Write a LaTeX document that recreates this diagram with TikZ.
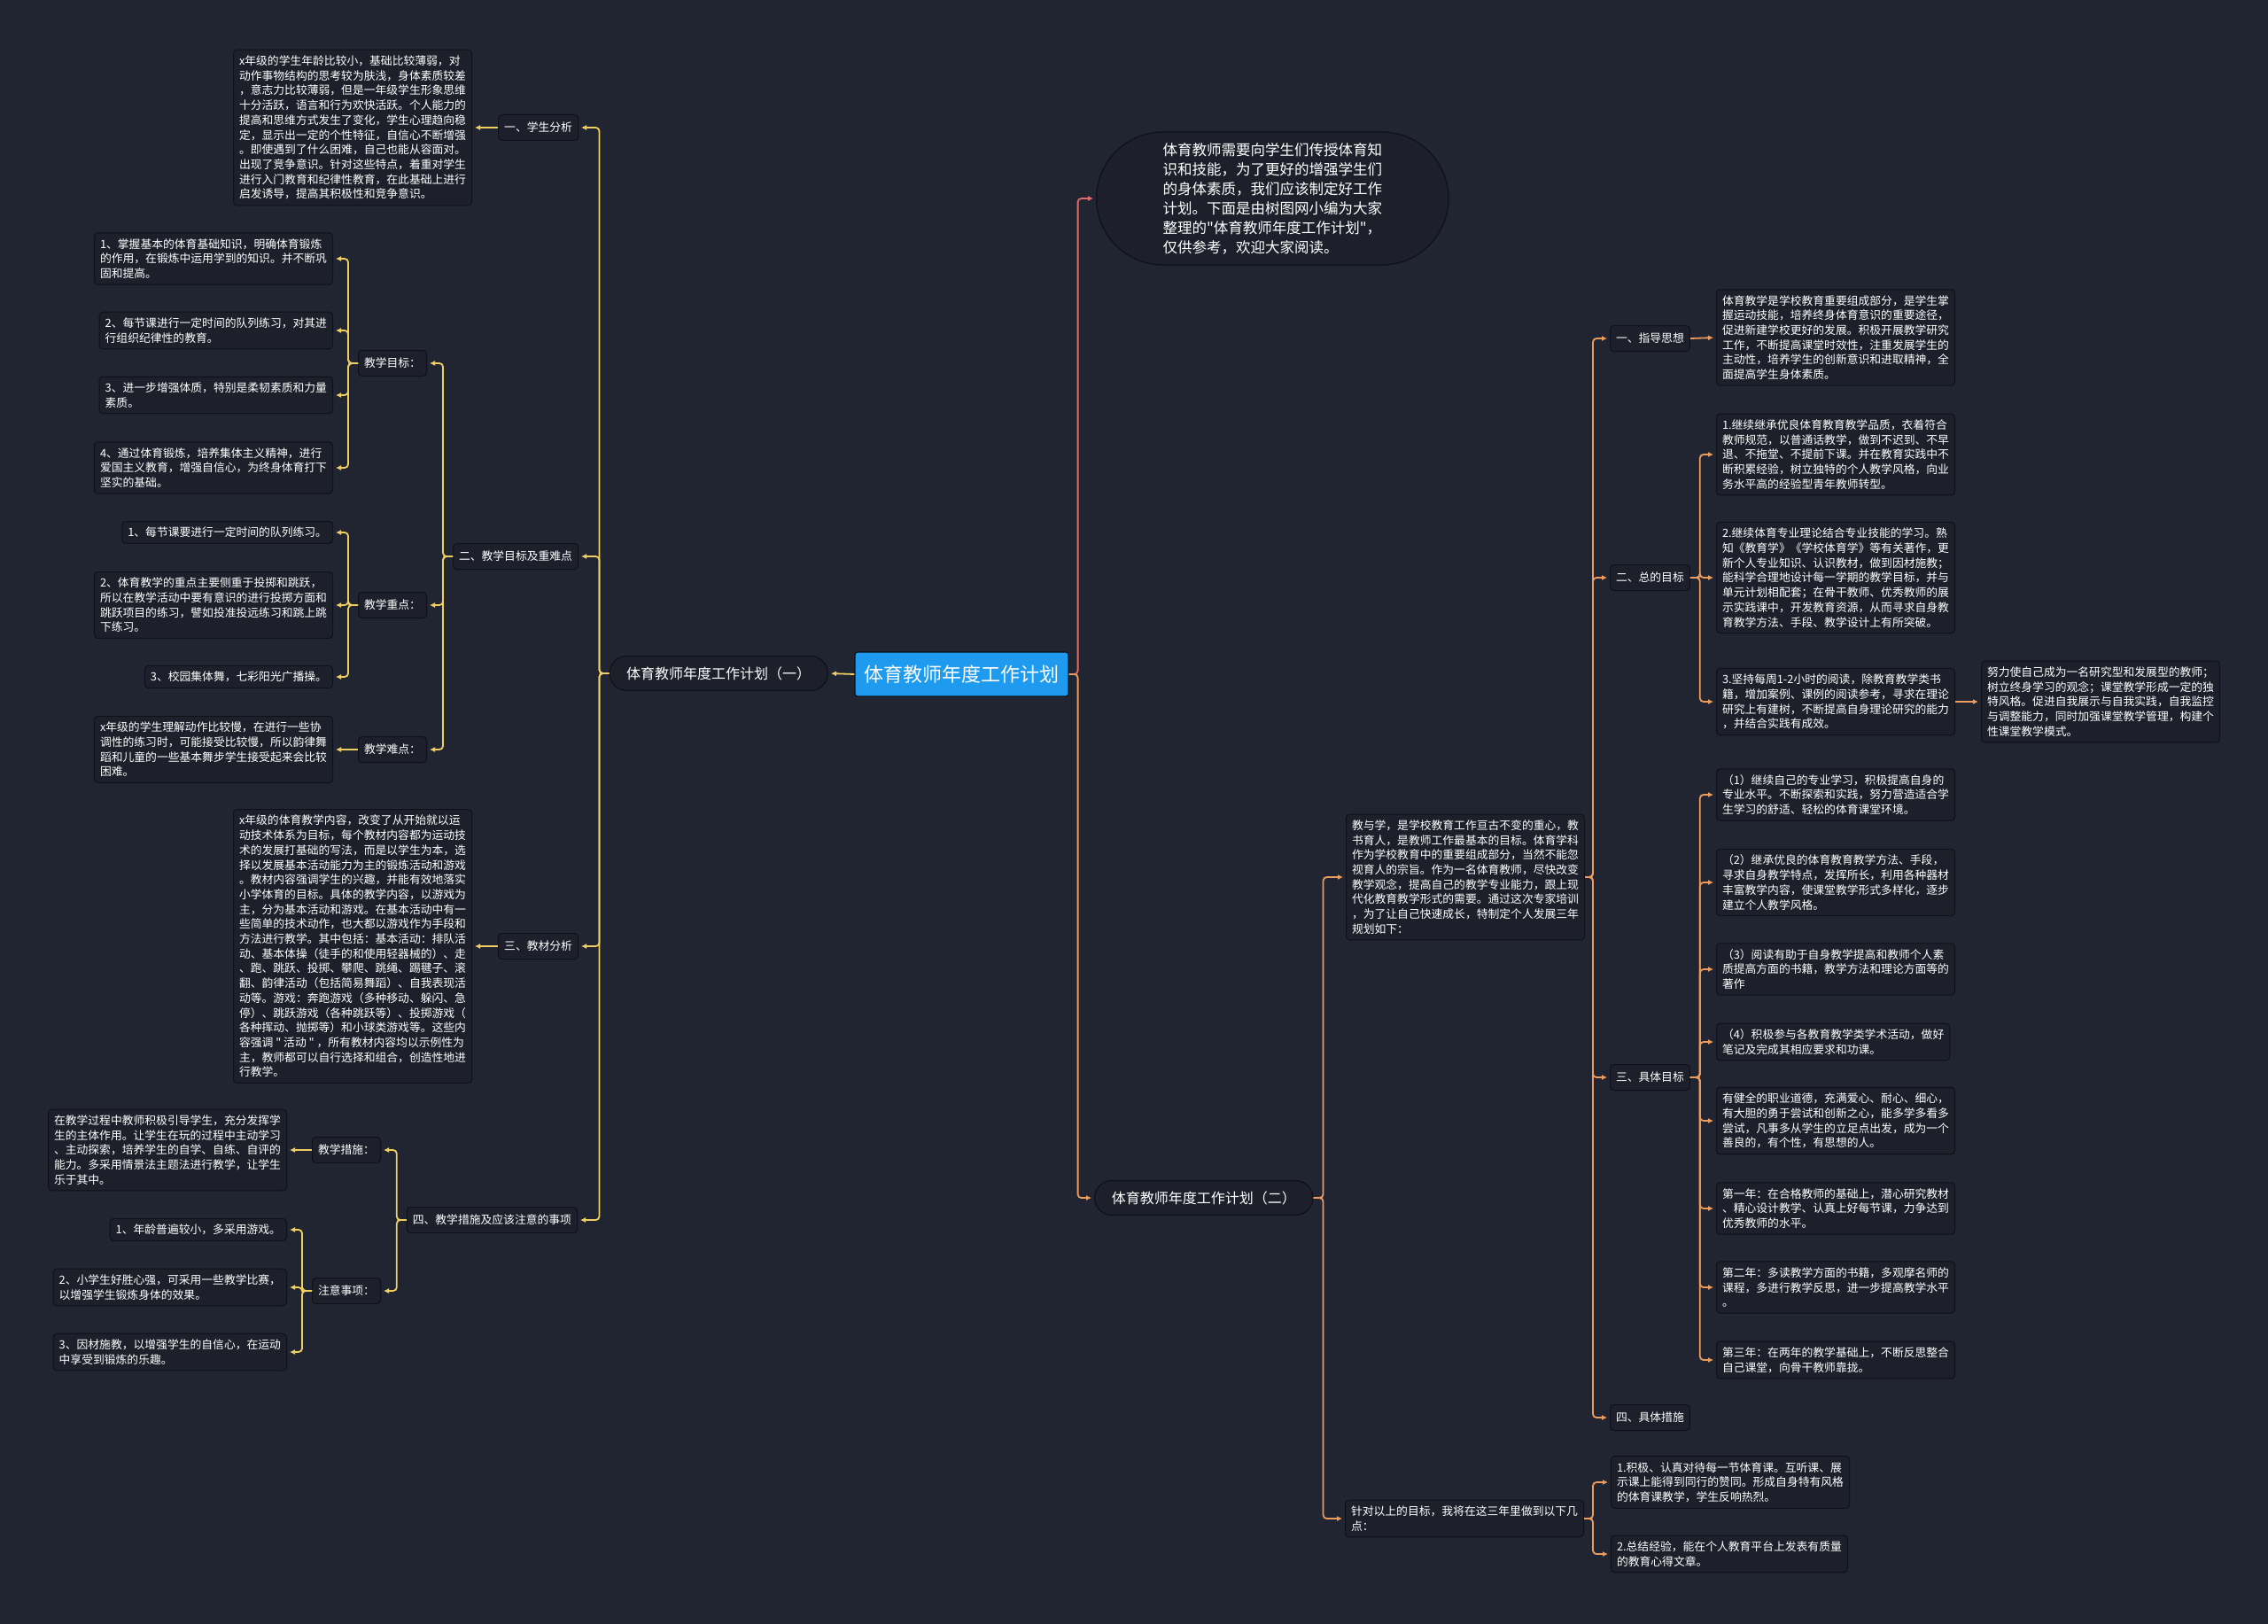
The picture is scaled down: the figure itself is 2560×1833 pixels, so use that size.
\documentclass[tikz,border=0pt]{standalone}
\usepackage{fontspec}
\setmainfont{Noto Sans CJK SC}[Ligatures=TeXOff]
\usetikzlibrary{arrows.meta,shapes.misc}
\definecolor{bgcol}{HTML}{212532}
\definecolor{boxfill}{HTML}{1D202B}
\definecolor{boxline}{HTML}{0F1116}
\definecolor{ylw}{HTML}{EFCE62}
\definecolor{org}{HTML}{EE9C5E}
\definecolor{rdl}{HTML}{E26B6B}
\definecolor{rootblue}{HTML}{1E9BEF}

\begin{document}
\begin{tikzpicture}[x=1pt, y=-1pt,
  >={Latex[length=6pt,width=6pt]},
  every node/.style={text=white, font=\fontsize{12.8}{16.7}\selectfont},
  txt/.style={draw=boxline, fill=boxfill, line width=1pt, rounded corners=4pt,
              align=left, inner xsep=6.5pt, inner ysep=6.5pt},
  lbl/.style={txt, minimum height=29pt, inner ysep=3pt},
  pill/.style={draw=boxline, fill=boxfill, line width=1.2pt, rounded rectangle,
               minimum height=39pt, minimum width=253pt,
               font=\fontsize{16}{20}\selectfont},
  ylink/.style={->, draw=ylw, line width=1.8pt, rounded corners=4pt, shorten >=3pt},
  olink/.style={ylink, draw=org},
  rlink/.style={ylink, draw=rdl}
]
  \fill[bgcol] (0,0) rectangle (2560,1833);
  \useasboundingbox (0,0) rectangle (2560,1833);

  % centre
  \node[draw=boxline, fill=rootblue, line width=1.2pt, rounded corners=3pt,
        minimum width=241pt, minimum height=50pt,
        font=\fontsize{22}{26}\selectfont] (root) at (1085.5,761) {体育教师年度工作计划};

  % left half
  \node[pill, anchor=east] (planA) at (935,760) {体育教师年度工作计划（一）};

  \node[lbl, anchor=east] (stu) at (653,144) {一、学生分析};
  \node[txt, anchor=east] (stuT) at (533,144) {x年级的学生年龄比较小，基础比较薄弱，对\\
    动作事物结构的思考较为肤浅，身体素质较差\\
    ，意志力比较薄弱，但是一年级学生形象思维\\
    十分活跃，语言和行为欢快活跃。个人能力的\\
    提高和思维方式发生了变化，学生心理趋向稳\\
    定，显示出一定的个性特征，自信心不断增强\\
    。即使遇到了什么困难，自己也能从容面对。\\
    出现了竞争意识。针对这些特点，着重对学生\\
    进行入门教育和纪律性教育，在此基础上进行\\
    启发诱导，提高其积极性和竞争意识。};

  \node[lbl, anchor=east] (aim) at (653,628) {二、教学目标及重难点};
  \node[lbl, anchor=east] (goal) at (482,410) {教学目标：};
  \node[txt, anchor=east] (ga1) at (376,292) {1、掌握基本的体育基础知识，明确体育锻炼\\
    的作用，在锻炼中运用学到的知识。并不断巩\\固和提高。};
  \node[txt, anchor=east] (ga2) at (376,373) {2、每节课进行一定时间的队列练习，对其进\\
    行组织纪律性的教育。};
  \node[txt, anchor=east] (ga3) at (376,446) {3、进一步增强体质，特别是柔韧素质和力量\\素质。};
  \node[txt, anchor=east] (ga4) at (376,528) {4、通过体育锻炼，培养集体主义精神，进行\\
    爱国主义教育，增强自信心，为终身体育打下\\坚实的基础。};

  \node[lbl, anchor=east] (key) at (482,683) {教学重点：};
  \node[txt, anchor=east] (kb1) at (376,601) {1、每节课要进行一定时间的队列练习。};
  \node[txt, anchor=east] (kb2) at (376,683) {2、体育教学的重点主要侧重于投掷和跳跃，\\
    所以在教学活动中要有意识的进行投掷方面和\\
    跳跃项目的练习，譬如投准投远练习和跳上跳\\下练习。};
  \node[txt, anchor=east] (kb3) at (376,764) {3、校园集体舞，七彩阳光广播操。};

  \node[lbl, anchor=east] (hard) at (482,846) {教学难点：};
  \node[txt, anchor=east] (hardT) at (376,846) {x年级的学生理解动作比较慢，在进行一些协\\
    调性的练习时，可能接受比较慢，所以韵律舞\\
    蹈和儿童的一些基本舞步学生接受起来会比较\\困难。};

  \node[lbl, anchor=east] (mat) at (653,1068) {三、教材分析};
  \node[txt, anchor=east] (matT) at (533,1068) {x年级的体育教学内容，改变了从开始就以运\\
    动技术体系为目标，每个教材内容都为运动技\\
    术的发展打基础的写法，而是以学生为本，选\\
    择以发展基本活动能力为主的锻炼活动和游戏\\
    。教材内容强调学生的兴趣，并能有效地落实\\
    小学体育的目标。具体的教学内容，以游戏为\\
    主，分为基本活动和游戏。在基本活动中有一\\
    些简单的技术动作，也大都以游戏作为手段和\\
    方法进行教学。其中包括：基本活动：排队活\\
    动、基本体操（徒手的和使用轻器械的）、走\\
    、跑、跳跃、投掷、攀爬、跳绳、踢毽子、滚\\
    翻、韵律活动（包括简易舞蹈）、自我表现活\\
    动等。游戏：奔跑游戏（多种移动、躲闪、急\\
    停）、跳跃游戏（各种跳跃等）、投掷游戏（\\
    各种挥动、抛掷等）和小球类游戏等。这些内\\
    容强调 " 活动 " ，所有教材内容均以示例性为\\
    主，教师都可以自行选择和组合，创造性地进\\
    行教学。};

  \node[lbl, anchor=east] (meas) at (652,1377) {四、教学措施及应该注意的事项};
  \node[lbl, anchor=east] (way) at (430,1298) {教学措施：};
  \node[txt, anchor=east] (wayT) at (324,1298) {在教学过程中教师积极引导学生，充分发挥学\\
    生的主体作用。让学生在玩的过程中主动学习\\
    、主动探索，培养学生的自学、自练、自评的\\
    能力。多采用情景法主题法进行教学，让学生\\
    乐于其中。};
  \node[lbl, anchor=east] (note) at (430,1457) {注意事项：};
  \node[txt, anchor=east] (nt1) at (324,1388) {1、年龄普遍较小，多采用游戏。};
  \node[txt, anchor=east] (nt2) at (324,1453) {2、小学生好胜心强，可采用一些教学比赛，\\
    以增强学生锻炼身体的效果。};
  \node[txt, anchor=east] (nt3) at (324,1526) {3、因材施教，以增强学生的自信心，在运动\\
    中享受到锻炼的乐趣。};

  % right half
  \node[draw=boxline, fill=boxfill, line width=1.2pt, rounded rectangle,
        minimum width=404pt, minimum height=150pt, align=left,
        font=\fontsize{16.5}{22}\selectfont, anchor=west] (intro) at (1237,224)
    {体育教师需要向学生们传授体育知\\
     识和技能，为了更好的增强学生们\\
     的身体素质，我们应该制定好工作\\
     计划。下面是由树图网小编为大家\\
     整理的"体育教师年度工作计划"，\\
     仅供参考，欢迎大家阅读。};

  \node[pill, anchor=west] (planB) at (1235,1352) {体育教师年度工作计划（二）};

  \node[txt, anchor=west] (teach) at (1519,990) {教与学，是学校教育工作亘古不变的重心，教\\
    书育人，是教师工作最基本的目标。体育学科\\
    作为学校教育中的重要组成部分，当然不能忽\\
    视育人的宗旨。作为一名体育教师，尽快改变\\
    教学观念，提高自己的教学专业能力，跟上现\\
    代化教育教学形式的需要。通过这次专家培训\\
    ，为了让自己快速成长，特制定个人发展三年\\
    规划如下：};

  \node[lbl, anchor=west] (guide) at (1817,382) {一、指导思想};
  \node[txt, anchor=west] (guideT) at (1937,381) {体育教学是学校教育重要组成部分，是学生掌\\
    握运动技能，培养终身体育意识的重要途径，\\
    促进新建学校更好的发展。积极开展教学研究\\
    工作，不断提高课堂时效性，注重发展学生的\\
    主动性，培养学生的创新意识和进取精神，全\\
    面提高学生身体素质。};

  \node[lbl, anchor=west] (total) at (1817,652) {二、总的目标};
  \node[txt, anchor=west] (tg1) at (1937,513) {1.继续继承优良体育教育教学品质，衣着符合\\
    教师规范，以普通话教学，做到不迟到、不早\\
    退、不拖堂、不提前下课。并在教育实践中不\\
    断积累经验，树立独特的个人教学风格，向业\\
    务水平高的经验型青年教师转型。};
  \node[txt, anchor=west] (tg2) at (1937,652) {2.继续体育专业理论结合专业技能的学习。熟\\
    知《教育学》《学校体育学》等有关著作，更\\
    新个人专业知识、认识教材，做到因材施教；\\
    能科学合理地设计每一学期的教学目标，并与\\
    单元计划相配套；在骨干教师、优秀教师的展\\
    示实践课中，开发教育资源，从而寻求自身教\\
    育教学方法、手段、教学设计上有所突破。};
  \node[txt, anchor=west] (tg3) at (1937,792) {3.坚持每周1-2小时的阅读，除教育教学类书\\
    籍，增加案例、课例的阅读参考，寻求在理论\\
    研究上有建树，不断提高自身理论研究的能力\\
    ，并结合实践有成效。};
  \node[txt, anchor=west] (strive) at (2236,792) {努力使自己成为一名研究型和发展型的教师；\\
    树立终身学习的观念；课堂教学形成一定的独\\
    特风格。促进自我展示与自我实践，自我监控\\
    与调整能力，同时加强课堂教学管理，构建个\\
    性课堂教学模式。};

  \node[lbl, anchor=west] (spec) at (1817,1216) {三、具体目标};
  \node[txt, anchor=west] (sp1) at (1937,897) {（1）继续自己的专业学习，积极提高自身的\\
    专业水平。不断探索和实践，努力营造适合学\\
    生学习的舒适、轻松的体育课堂环境。};
  \node[txt, anchor=west] (sp2) at (1937,996) {（2）继承优良的体育教育教学方法、手段，\\
    寻求自身教学特点，发挥所长，利用各种器材\\
    丰富教学内容，使课堂教学形式多样化，逐步\\
    建立个人教学风格。};
  \node[txt, anchor=west] (sp3) at (1937,1094) {（3）阅读有助于自身教学提高和教师个人素\\
    质提高方面的书籍，教学方法和理论方面等的\\著作};
  \node[txt, anchor=west] (sp4) at (1937,1176) {（4）积极参与各教育教学类学术活动，做好\\
    笔记及完成其相应要求和功课。};
  \node[txt, anchor=west] (sp5) at (1937,1265) {有健全的职业道德，充满爱心、耐心、细心，\\
    有大胆的勇于尝试和创新之心，能多学多看多\\
    尝试，凡事多从学生的立足点出发，成为一个\\
    善良的，有个性，有思想的人。};
  \node[txt, anchor=west] (sp6) at (1937,1364) {第一年：在合格教师的基础上，潜心研究教材\\
    、精心设计教学、认真上好每节课，力争达到\\
    优秀教师的水平。};
  \node[txt, anchor=west] (sp7) at (1937,1453) {第二年：多读教学方面的书籍，多观摩名师的\\
    课程，多进行教学反思，进一步提高教学水平\\。};
  \node[txt, anchor=west] (sp8) at (1937,1535) {第三年：在两年的教学基础上，不断反思整合\\
    自己课堂，向骨干教师靠拢。};

  \node[lbl, anchor=west] (act) at (1817,1600) {四、具体措施};

  \node[txt, anchor=west] (aim3) at (1518,1714) {针对以上的目标，我将在这三年里做到以下几\\点：};
  \node[txt, anchor=west] (dp1) at (1818,1673) {1.积极、认真对待每一节体育课。互听课、展\\
    示课上能得到同行的赞同。形成自身特有风格\\
    的体育课教学，学生反响热烈。};
  \node[txt, anchor=west] (dp2) at (1818,1754) {2.总结经验，能在个人教育平台上发表有质量\\
    的教育心得文章。};

  % connectors, left
  \draw[ylink] (root.west) -- (planA.east);
  \foreach \c in {stu,aim,mat,meas}
    \draw[ylink] (planA.west) -- ++(-11,0) |- (\c.east);
  \draw[ylink] (stu.west) -- (stuT.east);
  \foreach \c in {goal,key,hard}
    \draw[ylink] (aim.west) -- ++(-11,0) |- (\c.east);
  \foreach \c in {ga1,ga2,ga3,ga4}
    \draw[ylink] (goal.west) -- ++(-11,0) |- (\c.east);
  \foreach \c in {kb1,kb2,kb3}
    \draw[ylink] (key.west) -- ++(-11,0) |- (\c.east);
  \draw[ylink] (hard.west) -- (hardT.east);
  \draw[ylink] (mat.west) -- (matT.east);
  \foreach \c in {way,note}
    \draw[ylink] (meas.west) -- ++(-11,0) |- (\c.east);
  \draw[ylink] (way.west) -- (wayT.east);
  \foreach \c in {nt1,nt2,nt3}
    \draw[ylink] (note.west) -- ++(-11,0) |- (\c.east);

  % connectors, right
  \draw[rlink] (root.east) -- ++(10,0) |- (intro.west);
  \draw[olink] (root.east) -- ++(10,0) |- (planB.west);
  \foreach \c in {teach,aim3}
    \draw[olink] (planB.east) -- ++(11,0) |- (\c.west);
  \foreach \c in {guide,total,spec,act}
    \draw[olink] (teach.east) -- ++(9,0) |- (\c.west);
  \draw[olink] (guide.east) -- (guideT.west);
  \foreach \c in {tg1,tg2,tg3}
    \draw[olink] (total.east) -- ++(11,0) |- (\c.west);
  \draw[olink] (tg3.east) -- (strive.west);
  \foreach \c in {sp1,sp2,sp3,sp4,sp5,sp6,sp7,sp8}
    \draw[olink] (spec.east) -- ++(11,0) |- (\c.west);
  \foreach \c in {dp1,dp2}
    \draw[olink] (aim3.east) -- ++(10,0) |- (\c.west);
\end{tikzpicture}
\end{document}
